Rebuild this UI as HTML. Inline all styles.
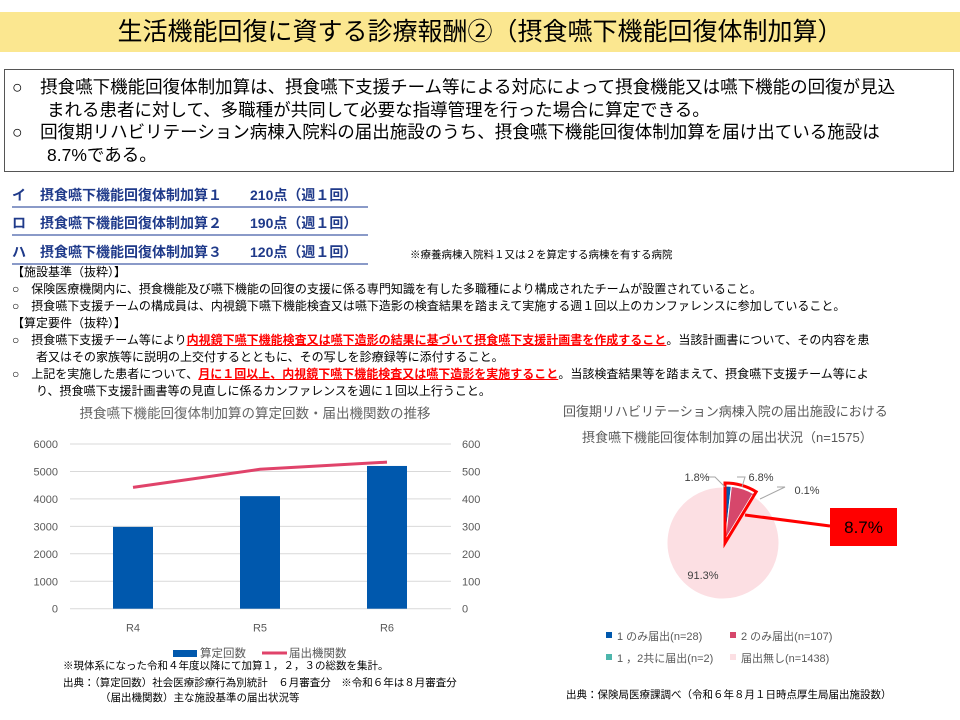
<!DOCTYPE html>
<html><head><meta charset="utf-8">
<style>
body{margin:0;width:960px;height:720px;background:#fff;position:relative;overflow:hidden;font-family:"Liberation Sans","Noto Sans CJK JP",sans-serif;color:#000}
.a{position:absolute;white-space:nowrap}
.t12{font-size:12px;line-height:16px}
.item{font-size:14px;font-weight:bold;color:#1F3A8A;border-bottom:2px solid #8A9AC8;width:356px;left:12px;padding-bottom:1px}
.red{color:#FF0000;font-weight:bold;text-decoration:underline}
</style></head><body>
<div class="a" style="left:0;top:12px;width:960px;height:40px;background:#FBE790"></div>
<div class="a" style="left:0;top:14px;width:960px;text-align:center;font-size:25px;line-height:36px">生活機能回復に資する診療報酬②（摂食嚥下機能回復体制加算）</div>
<div class="a" style="left:4px;top:69px;width:948px;height:101px;border:1.5px solid #555"></div>
<div class="a" style="left:12px;top:76px;font-size:17.5px;line-height:22.5px">○　摂食嚥下機能回復体制加算は、摂食嚥下支援チーム等による対応によって摂食機能又は嚥下機能の回復が見込<br>　　まれる患者に対して、多職種が共同して必要な指導管理を行った場合に算定できる。<br>○　回復期リハビリテーション病棟入院料の届出施設のうち、摂食嚥下機能回復体制加算を届け出ている施設は<br>　　8.7%である。</div>
<div class="a item" style="top:185px">イ　摂食嚥下機能回復体制加算１　　210点（週１回）</div>
<div class="a item" style="top:213px">ロ　摂食嚥下機能回復体制加算２　　190点（週１回）</div>
<div class="a item" style="top:242px">ハ　摂食嚥下機能回復体制加算３　　120点（週１回）</div>
<div class="a" style="left:410px;top:247px;font-size:10.5px">※療養病棟入院料１又は２を算定する病棟を有する病院</div>
<div class="a t12" style="left:12px;top:264px;line-height:17px">【施設基準（抜粋）】<br>○　保険医療機関内に、摂食機能及び嚥下機能の回復の支援に係る専門知識を有した多職種により構成されたチームが設置されていること。<br>○　摂食嚥下支援チームの構成員は、内視鏡下嚥下機能検査又は嚥下造影の検査結果を踏まえて実施する週１回以上のカンファレンスに参加していること。<br>【算定要件（抜粋）】<br>○　摂食嚥下支援チーム等により<span class="red">内視鏡下嚥下機能検査又は嚥下造影の結果に基づいて摂食嚥下支援計画書を作成すること</span>。当該計画書について、その内容を患<br>　　者又はその家族等に説明の上交付するとともに、その写しを診療録等に添付すること。<br>○　上記を実施した患者について、<span class="red">月に１回以上、内視鏡下嚥下機能検査又は嚥下造影を実施すること</span>。当該検査結果等を踏まえて、摂食嚥下支援チーム等によ<br>　　り、摂食嚥下支援計画書等の見直しに係るカンファレンスを週に１回以上行うこと。</div>

<svg class="a" style="left:0;top:395px" width="500" height="325" id="c1"></svg>
<svg class="a" style="left:560px;top:395px" width="400" height="325" id="c2"></svg>

<script>
const NS="http://www.w3.org/2000/svg";
function mk(p,tag,at,txt){const e=document.createElementNS(NS,tag);for(const k in at)e.setAttribute(k,at[k]);if(txt!==undefined)e.textContent=txt;p.appendChild(e);return e;}
const F='"Liberation Sans","Noto Sans CJK JP",sans-serif';

// ---- Bar/line chart data ----
const categories=["R4","R5","R6"];
const countValues=[2980,4100,5200];
const institutionValues=[442,508,534];
const leftTicks=[0,1000,2000,3000,4000,5000,6000];
const rightTicks=[0,100,200,300,400,500,600];

// ---- Pie data ----
const pieLabels=["1のみ届出(n=28)","2のみ届出(n=107)","1，2共に届出(n=2)","届出無し(n=1438)"];
const pieValues=[28,107,2,1438];
const piePctLabels=["1.8%","6.8%","0.1%","91.3%"];

(function(){
 const s=document.getElementById('c1');
 const x0=70,x1=451,yb=213.7,yt=49;
 const yL=v=>yb-(v/6000)*(yb-yt), yR=v=>yb-(v/600)*(yb-yt);
 const bw=(x1-x0)/categories.length;
 const xc=i=>x0+bw*(i+0.5)-0.5;
 let t=mk(s,'text',{x:255,y:23,'text-anchor':'middle','font-size':13.5,fill:'#666','font-family':F},'摂食嚥下機能回復体制加算の算定回数・届出機関数の推移');
 
 leftTicks.forEach(v=>{
  const g=mk(s,'line',{x1:x0,x2:x1,y1:yL(v),y2:yL(v),stroke:'#D9D9D9','stroke-width':1});
  
  const l=mk(s,'text',{x:58,y:yL(v)+4,'text-anchor':'end','font-size':11,fill:'#595959','font-family':F},v);
  
 });
 rightTicks.forEach(v=>{
  const l=mk(s,'text',{x:462,y:yR(v)+4,'text-anchor':'start','font-size':11,fill:'#595959','font-family':F},v);
  
 });
 categories.forEach((c,i)=>{
  const b=mk(s,'rect',{x:xc(i)-20,y:yL(countValues[i]),width:40,height:yb-yL(countValues[i]),fill:'#0058AD'});
  
  const l=mk(s,'text',{x:xc(i),y:yb+23,'text-anchor':'middle','font-size':11,fill:'#595959','font-family':F},c);
  
 });
 const pl=mk(s,'polyline',{points:categories.map((c,i)=>xc(i)+','+yR(institutionValues[i])).join(' '),fill:'none',stroke:'#E0436A','stroke-width':3});
 
 const lr=mk(s,'rect',{x:173,y:255,width:24,height:7,fill:'#0058AD'});
 
 const lt=mk(s,'text',{x:200,y:262,'font-size':11.5,fill:'#595959','font-family':F},'算定回数');
 
 const ll=mk(s,'line',{x1:262,x2:287,y1:258,y2:258,stroke:'#E0436A','stroke-width':3});
 
 const lt2=mk(s,'text',{x:289,y:262,'font-size':11.5,fill:'#595959','font-family':F},'届出機関数');
 
 [['※現体系になった令和４年度以降にて加算１，２，３の総数を集計。',63,274],['出典：（算定回数）社会医療診療行為別統計　６月審査分　※令和６年は８月審査分',63,291],['（届出機関数）主な施設基準の届出状況等',100,306]].forEach(a=>{
  const n=mk(s,'text',{x:a[1],y:a[2],'font-size':10.5,fill:'#000','font-family':F},a[0]);
  
 });
})();

(function(){
 const s=document.getElementById('c2');
 const cx=163,cy=148,r=56;
 const colors=['#0058AD','#D6476B','#4DB6AC','#FCDFE3'];
 const total=pieValues.reduce((a,b)=>a+b,0);
 let t=mk(s,'text',{x:3,y:21,'font-size':13,fill:'#595959','font-family':F},'回復期リハビリテーション病棟入院の届出施設における');
 
 t=mk(s,'text',{x:22,y:47,'font-size':13,fill:'#595959','font-family':F},'摂食嚥下機能回復体制加算の届出状況（n=1575）');
 
 const pt=(a,rr,ox,oy)=>[ox+rr*Math.sin(a),oy-rr*Math.cos(a)];
 const arc=(a0,a1,rr,ox,oy)=>{const p0=pt(a0,rr,ox,oy),p1=pt(a1,rr,ox,oy);return `M${ox},${oy}L${p0[0]},${p0[1]}A${rr},${rr} 0 ${a1-a0>Math.PI?1:0} 1 ${p1[0]},${p1[1]}Z`;};
 let a=0;const angs=[];
 pieValues.forEach((v,i)=>{
  const a1=a+v/total*2*Math.PI;angs.push([a,a1]);
  const ox=i<3?cx+2:cx, oy=cy;
  const p=mk(s,'path',{d:arc(a,a1,i<3?r+1:r,ox,oy),fill:colors[i],stroke:'#fff','stroke-width':1});
  
  a=a1;
 });
 const hiEnd=angs[2][1];
 const hl=mk(s,'path',{d:arc(0,hiEnd,60,cx+2,cy),fill:'none',stroke:'#FF0000','stroke-width':3});
 
 const cl=mk(s,'line',{x1:185,y1:120,x2:270,y2:131,stroke:'#FF0000','stroke-width':3});
 
 const cb=mk(s,'rect',{x:270,y:113,width:67,height:38,fill:'#FF0000'});
 
 const ct=mk(s,'text',{x:303.5,y:138,'text-anchor':'middle','font-size':17,fill:'#000','font-family':F},'8.7%');
 
 // leader lines
 [[155,82,165,92],[185,82,182,92],[225,92,200,104]].forEach(l=>{
  const e=mk(s,'polyline',{points:`${l[0]-8},${l[1]} ${l[0]},${l[1]} ${l[2]},${l[3]}`,fill:'none',stroke:'#A6A6A6','stroke-width':1});
  
 });
 const lp=[[137,82],[201,82],[247,95],[143,180]];
 piePctLabels.forEach((p,i)=>{
  const e=mk(s,'text',{x:lp[i][0],y:lp[i][1]+4,'text-anchor':'middle','font-size':11,fill:'#404040','font-family':F},p);
  
 });
 const lg=[[46,241],[170,241],[46,263],[170,263]];
 pieLabels.forEach((p,i)=>{
  const m=mk(s,'rect',{x:lg[i][0],y:lg[i][1]-4,width:6,height:6,fill:colors[i]});
  
  const e=mk(s,'text',{x:lg[i][0]+11,y:lg[i][1]+4,'font-size':11,fill:'#595959','font-family':F},p.replace(/^(1|2)/,'$1 '));
  
 });
 const src=mk(s,'text',{x:6,y:303,'font-size':10.5,fill:'#000','font-family':F},'出典：保険局医療課調べ（令和６年８月１日時点厚生局届出施設数）');
 
})();
</script>
</body></html>
